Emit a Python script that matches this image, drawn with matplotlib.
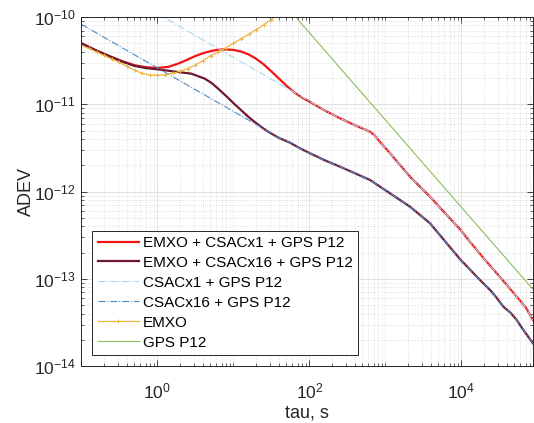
import numpy as np
import matplotlib
matplotlib.use("Agg")
import matplotlib.pyplot as plt
from matplotlib.ticker import NullFormatter, LogFormatterSciNotation, FixedLocator

plt.rcParams['font.family'] = ['Liberation Sans', 'DejaVu Sans']
plt.rcParams['mathtext.default'] = 'regular'

# ---- data (log10 values) ----
red_log_tau = [-1.0, -0.8, -0.605, -0.45, -0.297, -0.15, 0.0, 0.14, 0.272, 0.38, 0.492, 0.6,
               0.711, 0.80, 0.887, 1.0, 1.1, 1.2, 1.3, 1.4, 1.5, 1.6, 1.7, 1.8, 1.9, 2.0,
               2.2, 2.404, 2.6, 2.799, 2.86, 2.908, 3.062, 3.325, 3.588, 3.8, 3.992, 4.1,
               4.203, 4.30, 4.466, 4.60, 4.729, 4.85, 4.943]
red_log_adev = [-10.306, -10.385, -10.458, -10.51, -10.553, -10.575, -10.584, -10.572, -10.535,
                -10.495, -10.45, -10.415, -10.389, -10.375, -10.371, -10.377, -10.395, -10.428,
                -10.478, -10.543, -10.622, -10.705, -10.788, -10.862, -10.92, -10.968, -11.07,
                -11.16, -11.24, -11.314, -11.355, -11.409, -11.561, -11.829, -12.058, -12.26,
                -12.44, -12.56, -12.669, -12.77, -12.936, -13.07, -13.204, -13.33, -13.471]

dred_log_tau = [-1.0, -0.8, -0.605, -0.45, -0.297, -0.15, 0.0, 0.14, 0.272, 0.447, 0.624,
                0.72, 0.8, 0.93, 1.0, 1.1, 1.2, 1.3, 1.4, 1.5, 1.6, 1.746, 1.88, 2.009, 2.2,
                2.404, 2.6, 2.799, 3.062, 3.325, 3.588, 3.808, 3.992, 4.1, 4.203, 4.30,
                4.378, 4.45, 4.553, 4.65, 4.729, 4.816, 4.943]
dred_log_adev = [-10.30, -10.385, -10.458, -10.515, -10.561, -10.585, -10.599, -10.615, -10.63,
                 -10.649, -10.706, -10.76, -10.82, -10.925, -10.985, -11.065, -11.145, -11.215,
                 -11.28, -11.335, -11.385, -11.44, -11.505, -11.561, -11.64, -11.715, -11.79,
                 -11.867, -12.02, -12.173, -12.363, -12.592, -12.783, -12.88, -12.975, -13.06,
                 -13.127, -13.20, -13.318, -13.39, -13.471, -13.585, -13.738]

csac1_log_tau = [0.0, 2.0]
csac1_log_adev = [-9.962, -10.962]

csac16_log_tau = [-1.0, 1.5]
csac16_log_adev = [-10.084, -11.33]

emxo_log_tau = [-1.0, -0.9, -0.8, -0.7, -0.6, -0.5, -0.4, -0.3, -0.2, -0.1, 0.0, 0.1, 0.2, 0.3,
                0.4, 0.5, 0.6, 0.7, 0.8, 0.9, 1.0, 1.1, 1.2, 1.3, 1.4, 1.5, 1.6]
emxo_log_adev = [-10.324, -10.36, -10.40, -10.44, -10.48, -10.52, -10.565, -10.61, -10.645,
                 -10.665, -10.668, -10.66, -10.645, -10.622, -10.59, -10.55, -10.50, -10.445,
                 -10.40, -10.355, -10.30, -10.25, -10.20, -10.145, -10.09, -10.03, -9.97]

gps_log_tau = [1.7, 4.943]
gps_log_adev = [-9.88, -13.12]

labels = ['EMXO + CSACx1 + GPS P12', 'EMXO + CSACx16 + GPS P12', 'CSACx1 + GPS P12',
          'CSACx16 + GPS P12', 'EMXO', 'GPS P12']

x_major = [1e0, 1e2, 1e4]
y_major = [1e-14, 1e-13, 1e-12, 1e-11, 1e-10]


def p(v):
    return 10.0 ** np.asarray(v, dtype=float)


# CSAC + GPS curves lie under the combined curves at long tau
c1_t = csac1_log_tau + [t for t in red_log_tau if t > csac1_log_tau[-1]]
c1_a = csac1_log_adev + [a for t, a in zip(red_log_tau, red_log_adev) if t > csac1_log_tau[-1]]
c16_t = csac16_log_tau + [t for t in dred_log_tau if t > csac16_log_tau[-1]]
c16_a = csac16_log_adev + [a for t, a in zip(dred_log_tau, dred_log_adev) if t > csac16_log_tau[-1]]

W, H = 534, 423
fig = plt.figure(figsize=(W / 100, H / 100), dpi=100)
ax = fig.add_axes([81.3 / W, 1 - 366.2 / H, (533 - 81.3) / W, (366.2 - 17) / H])

ax.plot(p(red_log_tau), p(red_log_adev), color='#F21414', lw=1.6, label=labels[0])
ax.plot(p(dred_log_tau), p(dred_log_adev), color='#6E1830', lw=1.6, label=labels[1])
ax.plot(p(c1_t), p(c1_a), color='#A8D6F0', lw=0.8, ls='-.', label=labels[2])
ax.plot(p(c16_t), p(c16_a), color='#4A8CC6', lw=0.8, ls='-.', label=labels[3])
ax.plot(p(emxo_log_tau), p(emxo_log_adev), color='#F0B43C', lw=0.9, marker='+', ms=3,
        mew=0.7, label=labels[4])
ax.plot(p(gps_log_tau), p(gps_log_adev), color='#8DBE5B', lw=0.8, label=labels[5])

ax.set_xscale('log')
ax.set_yscale('log')
ax.set_xlim(0.1, 10 ** 4.943)
ax.set_ylim(1e-14, 1e-10)

ax.xaxis.set_major_locator(FixedLocator(x_major))
ax.xaxis.set_major_formatter(LogFormatterSciNotation())
xminor = [s * 10.0 ** d for d in range(-1, 5) for s in range(1, 10)
          if s * 10.0 ** d not in x_major and s * 10.0 ** d <= 10 ** 4.943]
ax.xaxis.set_minor_locator(FixedLocator(xminor))
ax.xaxis.set_minor_formatter(NullFormatter())
ax.yaxis.set_major_locator(FixedLocator(y_major))
ax.yaxis.set_major_formatter(LogFormatterSciNotation())
yminor = [s * 10.0 ** d for d in range(-14, -10) for s in range(2, 10)]
ax.yaxis.set_minor_locator(FixedLocator(yminor))
ax.yaxis.set_minor_formatter(NullFormatter())

ax.grid(True, which='major', color='#DCDCDC', lw=0.6, ls='-')
ax.grid(True, which='minor', color='#D8D8D8', lw=0.6, ls=':')
ax.set_axisbelow(True)

ax.tick_params(which='both', direction='in', top=True, right=True, colors='#262626',
               labelsize=12.5)
ax.tick_params(which='major', length=4, width=0.6)
ax.tick_params(which='minor', length=2, width=0.5)
ax.tick_params(axis='x', which='major', pad=11)
ax.tick_params(axis='y', which='major', pad=4)
for s in ax.spines.values():
    s.set_color('#262626')
    s.set_linewidth(0.7)

ax.set_xlabel('tau, s', fontsize=13, color='#262626', labelpad=2.5)
ax.set_ylabel('ADEV', fontsize=13, color='#262626', labelpad=-1)

leg = ax.legend(loc='lower left', bbox_to_anchor=(0.0244, 0.032), borderaxespad=0,
                fontsize=11, numpoints=1, handlelength=2.7, handletextpad=0.25,
                labelspacing=0.39, borderpad=0.35, fancybox=False, framealpha=1,
                edgecolor='#262626')
leg.get_frame().set_linewidth(0.7)

fig.savefig('out.png', dpi=100)
